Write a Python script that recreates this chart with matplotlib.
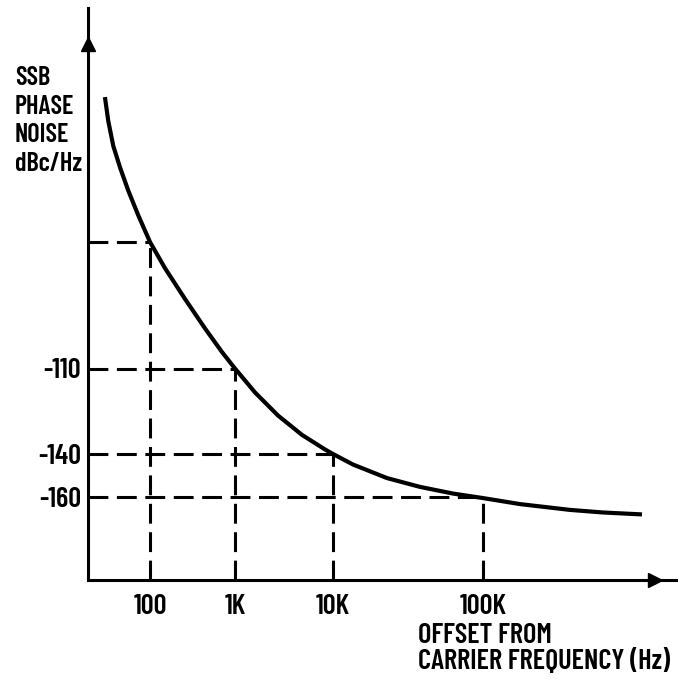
import numpy as np
import matplotlib
matplotlib.use("Agg")
import matplotlib.pyplot as plt
from matplotlib import font_manager

# data (schematic SSB phase noise curve)
offset_hz = [29.5, 32.3, 37, 44.4, 55.5, 72.9, 100, 150, 258, 444, 703, 1000, 1600,
             2747, 4828, 8286, 10000, 13594, 22909, 38019, 63096, 100000, 176500,
             380200, 631000, 1148000]
noise_dbc = [-45.6, -51.3, -57.2, -62.3, -67.8, -73.7, -80, -86.2, -93.5, -100.5,
             -106.1, -110, -118.4, -126.5, -133.3, -138.4, -140, -144.9, -151.2,
             -155.3, -158.4, -160.5, -163.3, -166.0, -167.2, -168.1]

mark_hz = [100, 1000, 10000, 100000]
mark_dbc = [-80, -110, -140, -160]
x_labels = ["100", "1K", "10K", "100K"]
y_labels = ["", "-110", "-140", "-160"]

# the drawing is schematic: decades and dB steps are not evenly spaced
dec_log = np.array([1, 2, 3, 4, 5, 7])
dec_pos = np.array([65, 150, 235, 333, 483, 783])
db_vals = np.array([-220, -160, -140, -110, -80, 0])
db_pos = -np.array([626, 497, 454, 368.5, 242, -95])


def fx(f):
    return np.interp(np.log10(np.clip(f, 1e-3, None)), dec_log, dec_pos)


def fx_inv(p):
    return 10 ** np.interp(p, dec_pos, dec_log)


def fy(d):
    return np.interp(d, db_vals, db_pos)


def fy_inv(p):
    return np.interp(p, db_pos, db_vals)


names = {f.name for f in font_manager.fontManager.ttflist}
if "Barlow Condensed" in names:
    font, fs, fw = "Barlow Condensed", 20.5, 600
else:
    font, fs, fw = "Liberation Sans", 14, "bold"
plt.rcParams["font.family"] = [font, "DejaVu Sans"]
plt.rcParams["font.weight"] = fw

W, H = 678, 679
fig = plt.figure(figsize=(W / 100, H / 100), dpi=100)
ax = fig.add_axes([88 / W, 1 - 580 / H, (676 - 88) / W, (580 - 8) / H])
ax.set_xscale("function", functions=(fx, fx_inv))
ax.set_yscale("function", functions=(fy, fy_inv))
ax.set_xlim(fx_inv(88), fx_inv(676))
ax.set_ylim(fy_inv(-580), fy_inv(-8))

x0 = ax.get_xlim()[0]
y0 = ax.get_ylim()[0]
dash = dict(color="black", lw=2.2, dashes=(6.5, 2.8), solid_capstyle="butt")
for f, d in zip(mark_hz, mark_dbc):
    ax.plot([x0, f], [d, d], **dash)
    ax.plot([f, f], [y0, d], **dash)

ax.plot(offset_hz, noise_dbc, color="black", lw=3, solid_capstyle="butt",
        solid_joinstyle="round")

for s in ["top", "right"]:
    ax.spines[s].set_visible(False)
for s in ["left", "bottom"]:
    ax.spines[s].set_linewidth(2.2)

# arrow heads sitting on the axis lines
ax.plot(0, 0.937, marker="^", ms=10, color="black", transform=ax.transAxes, clip_on=False)
ax.plot(0.964, 0, marker=">", ms=10, color="black", transform=ax.transAxes, clip_on=False)

ax.set_xticks(mark_hz, x_labels)
ax.set_yticks(mark_dbc, y_labels)
ax.minorticks_off()
ax.tick_params(axis="x", direction="in", length=6, width=2, pad=10, labelsize=fs)
ax.tick_params(axis="y", length=0, pad=5, labelsize=fs)

fig.text(15 / W, 1 - 66 / H, "SSB\nPHASE\nNOISE\ndBc/Hz", ha="left", va="top",
         fontsize=fs - 1.5, linespacing=1.24)
fig.text(418 / W, 1 - 623 / H, "OFFSET FROM\nCARRIER FREQUENCY (Hz)", ha="left", va="top",
         fontsize=fs, linespacing=1.0)

fig.savefig("out.png", dpi=100)
